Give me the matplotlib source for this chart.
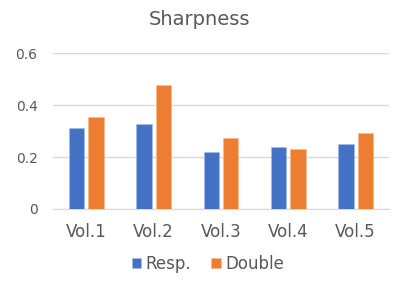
import numpy as np
import matplotlib
matplotlib.use("Agg")
import matplotlib.pyplot as plt

categories = ["Vol.1", "Vol.2", "Vol.3", "Vol.4", "Vol.5"]
resp = [0.311, 0.329, 0.218, 0.238, 0.250]
double = [0.355, 0.479, 0.274, 0.231, 0.292]
yticks = [0, 0.2, 0.4, 0.6]
ytick_labels = ["0", "0.2", "0.4", "0.6"]

gray = "#595959"
fig = plt.figure(figsize=(4, 2.85), dpi=100)
ax = fig.add_axes([0.132, 0.267, 0.841, 0.546])

x = np.arange(len(categories))
w = 0.23
ax.bar(x - 0.145, resp, w, color="#4472C4", edgecolor="#a9bde6", linewidth=0.4, label="Resp.", zorder=3)
ax.bar(x + 0.145, double, w, color="#ED7D31", edgecolor="#f6b98f", linewidth=0.4, label="Double", zorder=3)

ax.set_xlim(-0.5, len(categories) - 0.5)
ax.set_ylim(0, 0.6)
ax.set_yticks(yticks)
ax.set_yticklabels(ytick_labels)
ax.set_xticks(x)
ax.set_xticklabels(categories)
ax.grid(axis="y", color="#d9d9d9", linewidth=1, zorder=0)
for s in ["top", "right", "left"]:
    ax.spines[s].set_visible(False)
ax.spines["bottom"].set_color("#d9d9d9")
ax.tick_params(axis="y", length=0, labelsize=10, labelcolor=gray, pad=11)
ax.tick_params(axis="x", length=0, labelsize=12, labelcolor=gray, pad=10)

fig.suptitle("Sharpness", fontsize=14, color=gray, y=0.965)
fig.legend(loc="center", bbox_to_anchor=(0.52, 0.075), ncol=2, frameon=False,
           fontsize=12, labelcolor=gray, handlelength=0.55, handleheight=0.55,
           handletextpad=0.3, columnspacing=1.2)

fig.savefig("out.png", dpi=100)
